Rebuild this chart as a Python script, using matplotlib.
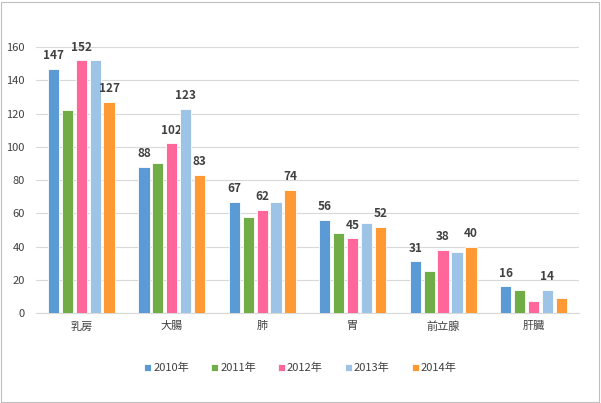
import matplotlib.pyplot as plt
import numpy as np
from matplotlib.patches import Rectangle

plt.rcParams['font.family'] = ['Noto Sans CJK JP', 'DejaVu Sans']

categories = ["乳房", "大腸", "肺", "胃", "前立腺", "肝臓"]
years = ["2010年", "2011年", "2012年", "2013年", "2014年"]

v2010 = [147, 88, 67, 56, 31, 16]
v2011 = [122, 90, 58, 48, 25, 14]
v2012 = [152, 102, 62, 45, 38, 7]
v2013 = [152, 123, 67, 54, 37, 14]
v2014 = [127, 83, 74, 52, 40, 9]

# which bars carry a value label (as in the original chart)
lab2010 = [True, True, True, True, True, True]
lab2011 = [False, False, False, False, False, False]
lab2012 = [True, True, True, True, True, False]
lab2013 = [False, True, False, False, False, True]
lab2014 = [True, True, True, True, True, False]

colors = ["#5B9BD5", "#70AD47", "#FF6699", "#9DC3E6", "#FF9933"]

series = [v2010, v2011, v2012, v2013, v2014]
labels = [lab2010, lab2011, lab2012, lab2013, lab2014]

fig = plt.figure(figsize=(6.01, 4.03), dpi=100)
ax = fig.add_axes([0.060, 0.2233, 0.903, 0.66])

x = np.arange(len(categories))
step = 0.154
width = 0.125
for i, (vals, labs) in enumerate(zip(series, labels)):
    pos = x + (i - 2) * step
    bars = ax.bar(pos, vals, width, color=colors[i], edgecolor="white",
                  linewidth=0.6, label=years[i], zorder=3)
    for b, v, show in zip(bars, vals, labs):
        if show:
            ax.text(b.get_x() + b.get_width() / 2, v + 4, str(v),
                    ha="center", va="bottom", fontsize=8.5,
                    fontweight="bold", color="#404040")

ax.set_ylim(0, 160)
ax.set_xlim(-0.5, len(categories) - 0.5)
ax.set_yticks(range(0, 161, 20))
ax.set_xticks(x)
ax.set_xticklabels(categories)
ax.tick_params(axis="both", length=0, labelsize=8, colors="#404040")
ax.tick_params(axis="y", pad=8)
ax.tick_params(axis="x", pad=6)
ax.grid(axis="y", color="#D9D9D9", linewidth=0.8, zorder=0)
for s in ["top", "right", "left"]:
    ax.spines[s].set_visible(False)
ax.spines["bottom"].set_color("#D9D9D9")

fig.legend(loc="center", bbox_to_anchor=(0.5, 0.087), ncol=5, frameon=False,
           fontsize=8, handlelength=0.6, handleheight=0.6, handletextpad=0.2,
           columnspacing=2.0, labelcolor="#404040")

fig.patches.append(Rectangle((0.002, 0.003), 0.994, 0.993, transform=fig.transFigure,
                             fill=False, edgecolor="#BFBFBF", linewidth=0.8))

fig.savefig("out.png", dpi=100)
